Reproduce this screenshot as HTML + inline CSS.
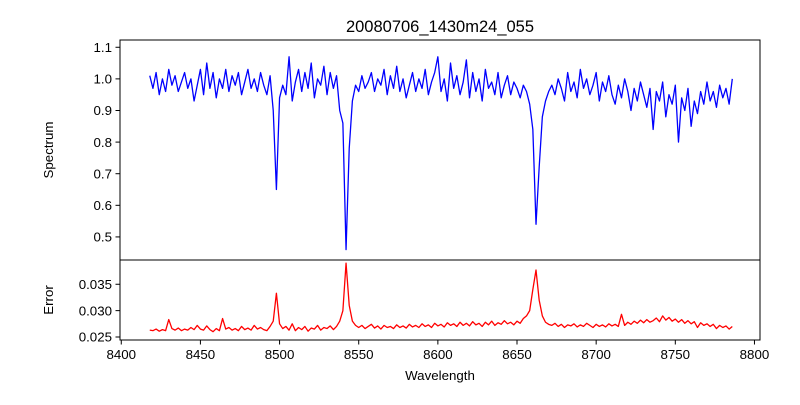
<!DOCTYPE html>
<html><head><meta charset="utf-8"><style>
body{margin:0;background:#fff;}
svg text{font-family:"Liberation Sans","DejaVu Sans",sans-serif;fill:#000;}
</style></head><body>
<svg id="chart" width="800" height="400" xmlns="http://www.w3.org/2000/svg">
<rect width="800" height="400" fill="#fff"/>
<text x="440" y="32" font-size="16.5" text-anchor="middle">20080706_1430m24_055</text>
<text transform="translate(53,150) rotate(-90)" font-size="13.3" text-anchor="middle">Spectrum</text>
<text transform="translate(53,300) rotate(-90)" font-size="13.3" text-anchor="middle">Error</text>
<text x="440" y="380" font-size="13.3" text-anchor="middle">Wavelength</text>
<g id="g"></g>
</svg>
<script>
const wlStart = 8418, wlStep = 2;
const spectrum = [1.01,0.97,1.02,0.95,1.00,0.96,1.03,0.98,1.01,0.96,0.99,1.02,0.97,1.00,0.93,0.98,1.03,0.95,1.05,0.97,1.02,0.94,1.00,0.97,1.03,0.96,1.01,0.98,1.02,0.95,0.99,1.03,0.97,1.00,0.96,1.02,0.98,0.95,1.01,0.90,
0.65,0.94,
0.98,0.95,1.07,0.93,0.99,1.03,0.96,1.02,0.97,1.05,0.94,1.00,0.98,1.04,0.95,1.02,0.97,1.01,
0.90,0.86,0.46,0.78,0.93,0.98,
0.96,1.01,0.97,0.99,1.02,0.96,1.00,0.98,1.03,0.95,1.01,0.97,1.04,0.96,1.00,0.94,0.98,1.02,0.96,1.00,0.97,1.03,0.95,0.99,1.02,1.07,0.96,1.00,0.93,1.05,0.97,1.01,0.95,0.99,1.06,0.94,1.02,0.96,1.00,0.93,1.03,0.97,0.99,0.95,1.02,0.94,0.98,1.01,0.95,0.99,0.97,0.94,0.98,0.96,
0.92,0.84,0.54,0.72,0.88,0.93,0.96,
0.98,0.95,1.00,0.97,0.93,1.02,0.96,0.99,0.94,1.03,0.97,1.00,0.95,0.98,1.02,0.93,0.99,0.96,1.01,0.95,0.92,0.98,0.94,1.00,0.96,0.90,0.97,0.93,0.99,0.95,0.91,0.97,0.84,0.96,0.93,0.99,0.88,0.95,0.92,0.98,0.80,0.94,0.90,0.97,0.85,0.93,0.89,0.96,0.92,0.99,0.93,0.96,0.91,0.98,0.94,0.97,0.92,1.00];
const errorVals = [0.0263,0.0262,0.0265,0.0261,0.0264,0.0262,0.0283,0.0266,0.0263,0.0267,0.0262,0.0265,0.0263,0.0268,0.0264,0.0272,0.0265,0.0263,0.0271,0.0264,0.0260,0.0266,0.0262,0.0285,0.0265,0.0268,0.0263,0.0266,0.0262,0.0270,0.0264,0.0267,0.0263,0.0272,0.0265,0.0268,0.0264,0.0262,0.0270,0.0280,
0.0333,0.0275,
0.0266,0.0270,0.0263,0.0275,0.0262,0.0268,0.0264,0.0270,0.0261,0.0267,0.0265,0.0272,0.0263,0.0268,0.0266,0.0271,0.0264,0.0270,
0.0280,0.0300,0.0390,0.0310,0.0280,0.0272,
0.0268,0.0272,0.0266,0.0270,0.0274,0.0267,0.0271,0.0265,0.0272,0.0268,0.0270,0.0266,0.0273,0.0268,0.0271,0.0267,0.0274,0.0269,0.0272,0.0268,0.0275,0.0270,0.0273,0.0268,0.0276,0.0271,0.0274,0.0269,0.0277,0.0272,0.0275,0.0270,0.0278,0.0272,0.0276,0.0271,0.0279,0.0273,0.0276,0.0270,0.0278,0.0273,0.0280,0.0272,0.0277,0.0274,0.0281,0.0275,0.0278,0.0273,0.0280,0.0276,0.0285,0.0290,
0.0300,0.0340,0.0377,0.0320,0.0290,0.0278,0.0274,
0.0272,0.0276,0.0270,0.0274,0.0268,0.0273,0.0271,0.0275,0.0269,0.0273,0.0270,0.0276,0.0272,0.0268,0.0274,0.0270,0.0273,0.0269,0.0275,0.0271,0.0274,0.0270,0.0293,0.0272,0.0278,0.0274,0.0280,0.0276,0.0282,0.0277,0.0283,0.0278,0.0281,0.0286,0.0279,0.0290,0.0282,0.0287,0.0280,0.0284,0.0278,0.0283,0.0276,0.0281,0.0275,0.0279,0.0268,0.0277,0.0272,0.0275,0.0270,0.0274,0.0266,0.0272,0.0268,0.0271,0.0265,0.0270];
const xTicks = [8400,8450,8500,8550,8600,8650,8700,8750,8800];
const specTicks = [0.5,0.6,0.7,0.8,0.9,1.0,1.1];
const errTicks = [0.025,0.030,0.035];

const NS = "http://www.w3.org/2000/svg";
const g = document.getElementById('g');
const L = 120, R = 760;
const X = v => L + (v - 8399.2) / (8803.5 - 8399.2) * (R - L);
const YS = v => 40 + (1.123 - v) / (1.123 - 0.427) * 220;
const YE = v => 260 + (0.0396 - v) / (0.0396 - 0.02443) * 80;
function mk(tag, attrs){const e=document.createElementNS(NS,tag);for(const k in attrs)e.setAttribute(k,attrs[k]);g.appendChild(e);return e;}

function line(arr, Y, color, name){
  let d = arr.map((v,i)=>(i?'L':'M')+X(wlStart+i*wlStep).toFixed(2)+','+Y(v).toFixed(2)).join('');
  const p = mk('path',{d:d,fill:'none',stroke:color,'stroke-width':1.3,'stroke-linejoin':'round'});
  
  
}
line(spectrum, YS, '#0000ff', 'spectrum-line');
line(errorVals, YE, '#ff0000', 'error-line');

const f1 = mk('rect',{x:L,y:40,width:R-L,height:220,fill:'none',stroke:'#000','stroke-width':1});


const f2 = mk('rect',{x:L,y:260,width:R-L,height:80,fill:'none',stroke:'#000','stroke-width':1});



xTicks.forEach(t=>{
  const x = X(t);
  const tk = mk('line',{x1:x,x2:x,y1:340,y2:344.5,stroke:'#000'});
  
  
  const tx = mk('text',{x:x,y:359,'font-size':13.3,'text-anchor':'middle'});
  tx.textContent = t;
  
  
});
specTicks.forEach(t=>{
  const y = YS(t);
  const tk = mk('line',{x1:L-4.5,x2:L,y1:y,y2:y,stroke:'#000'});
  
  
  const tx = mk('text',{x:L-8,y:y+4.7,'font-size':13.3,'text-anchor':'end'});
  tx.textContent = t.toFixed(1);
  
  
});
errTicks.forEach(t=>{
  const y = YE(t);
  const tk = mk('line',{x1:L-4.5,x2:L,y1:y,y2:y,stroke:'#000'});
  
  
  const tx = mk('text',{x:L-8,y:y+4.7,'font-size':13.3,'text-anchor':'end'});
  tx.textContent = t.toFixed(3);
  
  
});
</script>
</body></html>
